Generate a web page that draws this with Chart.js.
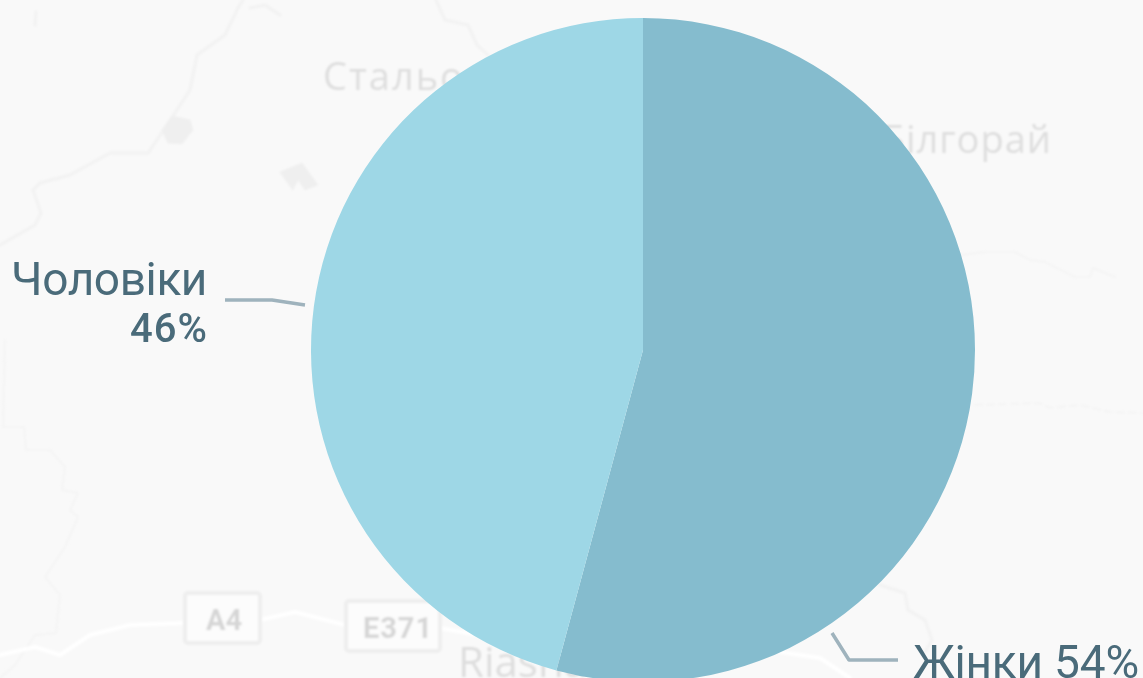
<!DOCTYPE html>
<html lang="uk">
<head>
<meta charset="utf-8">
<title>Чоловіки і жінки</title>
<script src="https://cdn.jsdelivr.net/npm/chart.js@4/dist/chart.umd.min.js"></script>
<style>
html,body{margin:0;padding:0;width:1143px;height:678px;overflow:hidden;background:#f9f9f9}
#map{position:absolute;left:0;top:0;width:1143px;height:678px}
#wrap{position:absolute;left:0;top:0;width:1143px;height:700px}
</style>
</head>
<body>
<svg id="map" viewBox="0 0 1143 678" xmlns="http://www.w3.org/2000/svg">
  <defs><filter id="soft" x="-5%" y="-5%" width="110%" height="110%"><feGaussianBlur stdDeviation="1"/></filter></defs>
  <g filter="url(#soft)" fill="none" stroke-linejoin="round" stroke-linecap="round">
    <g stroke="#f3f3f3" stroke-width="3.5">
      <path d="M0 245L35 225L41 213L33 190L40 183L70 175L110 153L148 153L165 128L190 90L197 55L225 35L238 8L243 0"/>
      <path d="M436 0L445 20L468 25L477 45L488 55"/>
      <path d="M250 8L265 5L280 15"/>
      <path d="M36 12L35 25"/>
      <path d="M880 585L905 593L908 610L925 620L932 640L925 652"/>
    </g>
    <g stroke="#f5f5f5" stroke-width="2.5">
      <path d="M960 255L985 252L1015 252L1030 260L1045 262L1065 272L1075 277L1090 277L1093 268L1110 275L1115 277"/>
      <path d="M975 405L1040 403L1050 408L1080 405L1110 412L1143 413" stroke-dasharray="7 5"/>
      <path d="M5 340L3 427L24 427L26 450L50 450L65 467L62 490L78 493L70 510L78 517L65 547L45 577L60 595L56 633L35 635L15 665L0 678"/>
    </g>
    <g stroke="#ffffff" stroke-width="4">
      <path d="M0 655L35 647L60 655L90 635L130 625L185 623"/>
      <path d="M260 620L295 612L345 625"/>
      <path d="M440 628L560 650"/>
      <path d="M780 652L820 658L850 678"/>
    </g>
    <g fill="#efefef" stroke="#f1f1f1" stroke-width="1">
      <path d="M162 130L172 116L190 120L193 130L182 144L168 143Z"/>
      <path d="M280 172L302 163L318 185L305 190L298 180L293 190Z"/>
    </g>
    <rect x="185" y="593" width="75" height="50" rx="3" fill="#fcfcfc" stroke="#eeeeee" stroke-width="4"/>
    <rect x="346" y="601" width="94" height="50" rx="3" fill="#fcfcfc" stroke="#eeeeee" stroke-width="4"/>
    <g stroke="none" fill="#d6d6d6">
      <text x="224" y="630" text-anchor="middle" font-family="Roboto" font-weight="700" font-size="29">A4</text>
      <text x="398" y="638" text-anchor="middle" font-family="Roboto" font-weight="700" font-size="29" letter-spacing="1">E371</text>
    </g>
    <g stroke="none" fill="#dedede">
      <text x="323" y="90" font-family="Open Sans" font-size="38" letter-spacing="2">Стальова Воля</text>
      <text x="1052" y="153" text-anchor="end" font-family="Open Sans" font-size="38" letter-spacing="1">Білгорай</text>
      <text x="458" y="677" font-family="Open Sans" font-size="42">Riasna</text>
    </g>
  </g>
</svg>
<div id="wrap"><canvas id="c" width="1143" height="700"></canvas></div>
<script>
const categories = ['Жінки', 'Чоловіки'];
const shareValues = [54.2, 45.8];
const sliceColors = ['#85bcce', '#9ed7e6'];

const inkColor = '#4a6b7a';
const leaderColor = '#9fb3bd';

const labelPlugin = {
  id: 'calloutLabels',
  afterDatasetsDraw(chart) {
    const ctx = chart.ctx;
    const arc = chart.getDatasetMeta(0).data[0];
    const cx = arc.x, cy = arc.y;
    const pct = shareValues.map(v => Math.round(v) + '%');
    ctx.save();
    ctx.strokeStyle = leaderColor;
    ctx.lineWidth = 3.5;
    ctx.lineJoin = 'round';
    const leaders = [
      [[189, 283], [206, 310], [255, 310]],
      [[-338, -45], [-371, -50], [-418, -50]]
    ];
    leaders.forEach(l => {
      ctx.beginPath();
      l.forEach((p, i) => i ? ctx.lineTo(cx + p[0], cy + p[1]) : ctx.moveTo(cx + p[0], cy + p[1]));
      ctx.stroke();
    });
    ctx.fillStyle = inkColor;
    ctx.textBaseline = 'alphabetic';
    ctx.textAlign = 'left';
    ctx.font = '400 46px Roboto';
    ctx.letterSpacing = '-0.2px';
    ctx.fillText(categories[0] + ' ' + pct[0], cx + 270, cy + 328);
    ctx.textAlign = 'right';
    ctx.letterSpacing = '-0.4px';
    ctx.fillText(categories[1], cx - 436, cy - 55);
    ctx.font = '500 40px Roboto';
    ctx.letterSpacing = '1px';
    ctx.fillText(pct[1], cx - 435, cy - 8);
    ctx.restore();
  }
};

new Chart(document.getElementById('c'), {
  type: 'pie',
  data: {
    labels: categories,
    datasets: [{
      data: shareValues,
      backgroundColor: sliceColors,
      borderWidth: 0
    }]
  },
  options: {
    responsive: false,
    animation: false,
    layout: { padding: { left: 143, right: 0, top: 18, bottom: 18 } },
    plugins: { legend: { display: false }, tooltip: { enabled: false }, title: { display: false } }
  },
  plugins: [labelPlugin]
});
</script>
</body>
</html>
